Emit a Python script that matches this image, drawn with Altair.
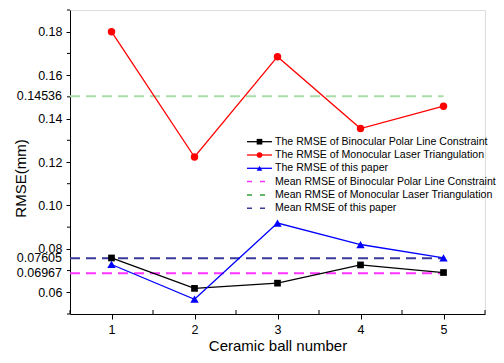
import altair as alt
import pandas as pd

# ---- data ----
balls = [1, 2, 3, 4, 5]
binocular = [0.0758, 0.0618, 0.0642, 0.0726, 0.0691]
monocular = [0.1800, 0.1223, 0.1685, 0.1354, 0.1457]
this_paper = [0.0728, 0.0568, 0.0919, 0.0820, 0.0758]

series_names = [
    "The RMSE of Binocular Polar Line Constraint",
    "The RMSE of Monocular Laser Triangulation",
    "The RMSE of this paper",
]
series_values = [binocular, monocular, this_paper]
series_colors = ["#000000", "#ff0000", "#0000ff"]
series_shapes = ["square", "circle", "triangle-up"]
series_sizes = [45, 55, 70]

mean_names = [
    "Mean RMSE of Binocular Polar Line Constraint",
    "Mean RMSE of Monocular Laser Triangulation",
    "Mean RMSE of this paper",
]
mean_values = [0.0688, 0.1503, 0.0757]          # drawn positions
mean_labels = ["0.06967", "0.14536", "0.07605"]  # printed tick labels
mean_colors = ["#ff33ff", "#a8dca8", "#3a3a9a"]
mean_legend_colors = ["#ff33ff", "#33a033", "#3a3a9a"]
mean_x_start = 0.5
mean_x_end = 5

y_ticks = [0.06, 0.08, 0.10, 0.12, 0.14, 0.16, 0.18]
y_minor = [0.05, 0.07, 0.09, 0.11, 0.13, 0.15, 0.17, 0.19]
x_minor = [0.5, 1.5, 2.5, 3.5, 4.5, 5.5]

FONT = "Liberation Sans"
W, H = 415, 304
TICK_FS = 12.5

xs = alt.Scale(domain=[0.5, 5.5], nice=False, zero=False)
ys = alt.Scale(domain=[0.05, 0.19], nice=False, zero=False)

x_axis = alt.Axis(
    values=balls, format="d", title="Ceramic ball number", grid=False,
    tickSize=5, labelPadding=4, labelFontSize=TICK_FS, titleFontSize=15,
    titleFontWeight="normal", titlePadding=3, domainColor="#000",
    tickColor="#000", labelColor="#000", titleColor="#000")
y_axis = alt.Axis(
    values=y_ticks, format=".2f", title="RMSE(mm)", grid=False,
    tickSize=4, labelPadding=4, labelFontSize=TICK_FS, titleFontSize=15,
    titleFontWeight="normal", titleX=-42, titleY=168,
    domainColor="#000", tickColor="#000", labelColor="#000", titleColor="#000")


def X(field="ball"):
    return alt.X(f"{field}:Q", scale=xs, axis=x_axis)


def Y(field="v"):
    return alt.Y(f"{field}:Q", scale=ys, axis=y_axis)


layers = []

# minor ticks
ymin_df = pd.DataFrame({"v": y_minor})
layers.append(alt.Chart(ymin_df).mark_rule(color="#000", strokeWidth=1).encode(
    y=Y(), x=alt.value(-3), x2=alt.value(0)))
xmin_df = pd.DataFrame({"ball": x_minor})
layers.append(alt.Chart(xmin_df).mark_rule(color="#000", strokeWidth=1).encode(
    x=X(), y=alt.value(H - 4), y2=alt.value(H)))

# mean lines
for val, col in zip(mean_values, mean_colors):
    mdf = pd.DataFrame({"ball": [mean_x_start], "ball2": [mean_x_end], "v": [val]})
    layers.append(alt.Chart(mdf).mark_rule(color=col, strokeWidth=2, strokeDash=[10, 6]).encode(
        x=X(), x2="ball2:Q", y=Y()))

# custom tick labels for the means
lab_df = pd.DataFrame({"v": mean_values, "t": mean_labels})
layers.append(alt.Chart(lab_df).mark_text(align="right", baseline="middle", fontSize=TICK_FS,
                                          font=FONT, color="#000").encode(
    y=Y(), x=alt.value(-8), text="t:N"))

# series
for name, vals, col, shp, sz in zip(series_names, series_values, series_colors, series_shapes, series_sizes):
    sdf = pd.DataFrame({"ball": balls, "v": vals})
    b = alt.Chart(sdf).encode(x=X(), y=Y())
    layers.append(b.mark_line(color=col, strokeWidth=1.3))
    layers.append(b.mark_point(shape=shp, filled=True, color=col, size=sz, opacity=1))

# legend (manual)
lx0, lx1, ltx = 177, 202, 205
ly0, ldy = 131.7, 13.3
LFS = 10.6
for i, (name, col, shp) in enumerate(zip(series_names, series_colors, series_shapes)):
    y = ly0 + i * ldy
    ldf = pd.DataFrame({"t": [name]})
    layers.append(alt.Chart(ldf).mark_rule(color=col, strokeWidth=1.3).encode(
        x=alt.value(lx0), x2=alt.value(lx1), y=alt.value(y)))
    layers.append(alt.Chart(ldf).mark_point(shape=shp, filled=True, color=col, size=32, opacity=1).encode(
        x=alt.value((lx0 + lx1) / 2), y=alt.value(y)))
    layers.append(alt.Chart(ldf).mark_text(align="left", baseline="middle", fontSize=LFS,
                                           font=FONT, color="#000").encode(
        x=alt.value(ltx), y=alt.value(y), text="t:N"))
for j, (name, col) in enumerate(zip(mean_names, mean_legend_colors)):
    y = ly0 + (j + 3) * ldy
    ldf = pd.DataFrame({"t": [name]})
    layers.append(alt.Chart(ldf).mark_rule(color=col, strokeWidth=1.5, strokeDash=[5, 8]).encode(
        x=alt.value(lx0), x2=alt.value(lx1), y=alt.value(y)))
    layers.append(alt.Chart(ldf).mark_text(align="left", baseline="middle", fontSize=LFS,
                                           font=FONT, color="#000").encode(
        x=alt.value(ltx), y=alt.value(y), text="t:N"))

chart = alt.layer(*layers).properties(
    width=W, height=H,
    autosize=alt.AutoSizeParams(type="none"),
    padding={"left": 62, "top": 2, "right": 11, "bottom": 41},
).configure_view(stroke=None).configure(font=FONT)

chart.save("out.html", embed_options={"renderer": "svg", "actions": False})
